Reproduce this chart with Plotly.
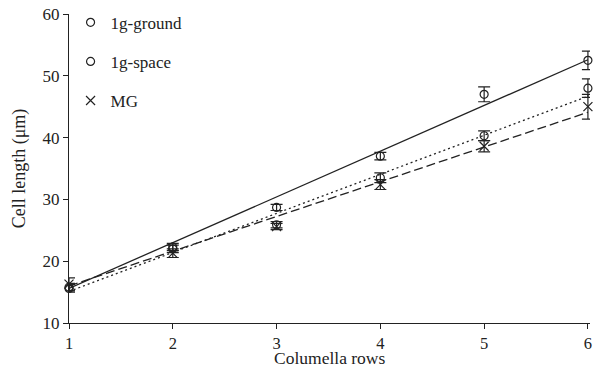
import plotly.graph_objects as go

rows = [1, 2, 3, 4, 5, 6]

ground = [15.8, 22.3, 28.7, 37.0, 47.0, 52.5]
ground_err = [0.6, 0.6, 0.5, 0.6, 1.2, 1.5]

space = [15.6, 22.0, 25.9, 33.5, 40.3, 48.0]
space_err = [0.6, 0.6, 0.5, 0.8, 0.8, 1.5]

mg = [16.3, 21.3, 25.6, 32.4, 38.6, 45.0]
mg_err = [1.0, 0.7, 0.5, 0.8, 0.9, 2.0]

fit_x = [1, 6]
ground_fit = [15.6, 52.6]
space_fit = [15.1, 46.7]
mg_fit = [16.0, 44.1]

FONT = "Liberation Serif, Times New Roman, Times, serif"
INK = "#222222"

fig = go.Figure()

# regression lines
for yv, dash in [(ground_fit, "solid"), (space_fit, "2px,3px"), (mg_fit, "9px,4px")]:
    fig.add_trace(go.Scatter(x=fit_x, y=yv, mode="lines", showlegend=False,
                             line=dict(color=INK, width=1.3, dash=dash),
                             hoverinfo="skip", cliponaxis=False))

series = [
    ("1g-ground", ground, ground_err, "circle-open", 8),
    ("1g-space", space, space_err, "circle-open", 8),
    ("MG", mg, mg_err, "x-thin-open", 9),
]
for i, (name, yv, ev, sym, sz) in enumerate(series):
    fig.add_trace(go.Scatter(
        x=rows, y=yv, mode="markers", name=name, legendgroup=f"g{i}",
        marker=dict(symbol=sym, size=sz, color=INK, line=dict(color=INK, width=1.2)),
        error_y=dict(type="data", array=ev, visible=True, color=INK, thickness=1.2, width=6),
        cliponaxis=False,
    ))

fig.update_layout(
    width=593, height=371,
    margin=dict(l=69, r=3, t=14, b=48, autoexpand=False),
    plot_bgcolor="white", paper_bgcolor="white",
    font=dict(family=FONT, size=17, color=INK),
    legend=dict(x=0.003, y=1.03, xanchor="left", yanchor="top",
                tracegroupgap=14, font=dict(family=FONT, size=17, color=INK),
                bgcolor="rgba(0,0,0,0)", itemwidth=30),
    showlegend=True,
    annotations=[dict(text="Columella rows", xref="paper", yref="paper",
                      x=0.5, y=-0.152, xanchor="center", yanchor="bottom",
                      showarrow=False, font=dict(family=FONT, size=17.5, color=INK))],
)
fig.update_xaxes(range=[1, 6.02], tickvals=rows, ticks="outside", ticklen=5,
                 tickcolor=INK, showline=True, linecolor=INK, linewidth=1.2,
                 showgrid=False, zeroline=False, automargin=False,
                 tickfont=dict(size=16.5))
fig.update_yaxes(range=[10, 60], tickvals=[10, 20, 30, 40, 50, 60], ticks="outside",
                 ticklen=5, tickcolor=INK, showline=True, linecolor=INK, linewidth=1.2,
                 showgrid=False, zeroline=False, automargin=False,
                 title=dict(text="Cell length (μm)", standoff=12, font=dict(size=18)))

fig.write_html("out.html", config={"displayModeBar": False},
               post_script="document.body.style.margin='0';document.body.style.overflow='hidden';")
